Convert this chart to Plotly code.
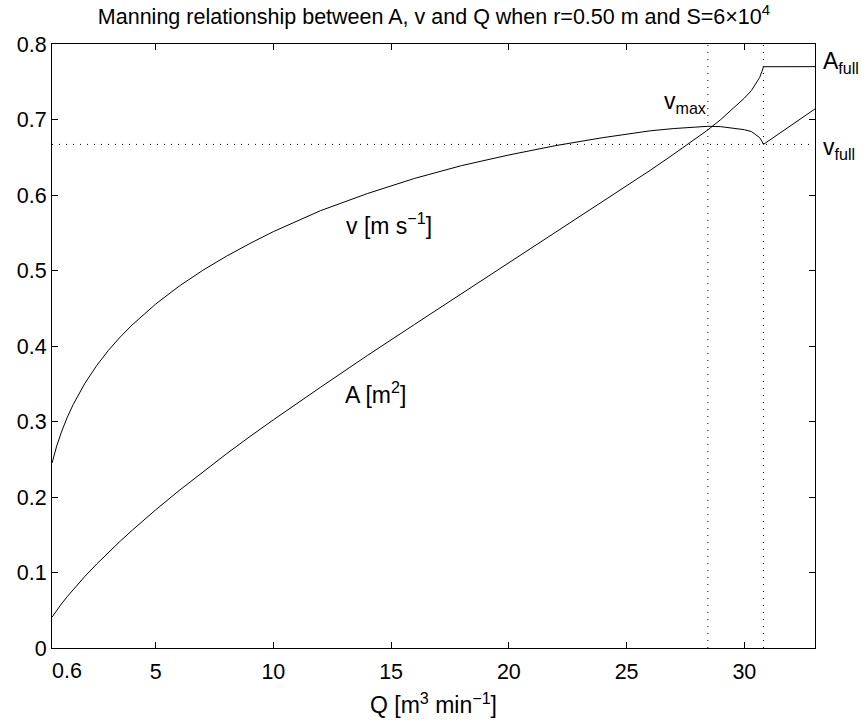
import plotly.graph_objects as go

# Discharge Q [m^3 min^-1] (partially full part of the curves)
q_part = [0.6, 0.7, 0.8, 1, 1.25, 1.5, 2, 2.5, 3, 3.5, 4, 5, 6, 7, 8, 9, 10, 12, 14,
          16, 18, 20, 22, 24, 26, 27, 28, 28.45, 29, 29.5, 30, 30.3, 30.5, 30.65,
          30.75, 30.81]
# Velocity v [m s^-1]
v_part = [0.245, 0.2569, 0.2675, 0.286, 0.3057, 0.3225, 0.3508, 0.3742, 0.3944,
          0.4120, 0.4278, 0.4555, 0.4793, 0.5002, 0.5188, 0.5357, 0.5515, 0.5792,
          0.602, 0.622, 0.639, 0.653, 0.6655, 0.676, 0.685, 0.688, 0.690, 0.691,
          0.6905, 0.689, 0.6865, 0.684, 0.680, 0.676, 0.671, 0.667]
# Flow area A [m^2]
a_part = [0.0408, 0.0454, 0.0498, 0.0583, 0.0682, 0.0775, 0.0950, 0.1113, 0.1268,
          0.1416, 0.1558, 0.1829, 0.2086, 0.2332, 0.2570, 0.2800, 0.3022, 0.3453,
          0.3876, 0.4287, 0.4695, 0.5105, 0.5510, 0.5917, 0.6326, 0.6541, 0.6763,
          0.6862, 0.7000, 0.7136, 0.7283, 0.7383, 0.7475, 0.7557, 0.7638, 0.7699]
# Pipe-full (pressurised) part
q_pres = [30.81, 33.0]
v_pres = [0.667, 0.714]
a_pres = [0.770, 0.770]

q_vmax = 28.45
q_full = 30.81
v_full = 0.667
x_range = [0.6, 33.0]
y_range = [0, 0.8]

x_tickvals = [0.6, 5, 10, 15, 20, 25, 30]
x_ticktext = ["0.6", "5", "10", "15", "20", "25", "30"]
y_tickvals = [0, 0.1, 0.2, 0.3, 0.4, 0.5, 0.6, 0.7, 0.8]
y_ticktext = ["0", "0.1", "0.2", "0.3", "0.4", "0.5", "0.6", "0.7", "0.8"]

FONT = "Liberation Sans, Arial, Helvetica, sans-serif"
FS = 21.5
line = dict(color="black", width=1)
dots = dict(color="black", width=1, dash="1px,6px")

fig = go.Figure()
# dotted guide lines
fig.add_trace(go.Scatter(x=x_range, y=[v_full, v_full], mode="lines", line=dots))
fig.add_trace(go.Scatter(x=[q_vmax, q_vmax], y=y_range, mode="lines", line=dots))
fig.add_trace(go.Scatter(x=[q_full, q_full], y=y_range, mode="lines", line=dots))
# curves
fig.add_trace(go.Scatter(x=q_part + q_pres[1:], y=v_part + v_pres[1:], mode="lines", line=line))
fig.add_trace(go.Scatter(x=q_part + q_pres[1:], y=a_part + a_pres[1:], mode="lines", line=line))

ann_font = dict(family=FONT, size=23, color="black")
fig.add_annotation(x=14.9, y=0.562, text="v [m s<sup>\u22121</sup>]", showarrow=False, font=ann_font)
fig.add_annotation(x=14.35, y=0.338, text="A [m<sup>2</sup>]", showarrow=False, font=ann_font)
fig.add_annotation(x=27.5, y=0.722, text="v<sub>max</sub>", showarrow=False, font=ann_font)
fig.add_annotation(x=1.008, xref="paper", y=0.775, text="A<sub>full</sub>", showarrow=False,
                   xanchor="left", font=ann_font)
fig.add_annotation(x=1.008, xref="paper", y=0.662, text="v<sub>full</sub>", showarrow=False,
                   xanchor="left", font=ann_font)
# first x tick label sits to the right of its tick, as in the original
fig.add_annotation(x=x_tickvals[0], y=0, xref="x", yref="paper", text=x_ticktext[0],
                   showarrow=False, xanchor="left", yanchor="top", yshift=-9,
                   xshift=-2, font=dict(family=FONT, size=FS, color="black"))

axis_common = dict(showline=True, linecolor="black", linewidth=1, mirror="ticks",
                   ticks="inside", ticklen=6, tickcolor="black", showgrid=False,
                   zeroline=False, automargin=False,
                   tickfont=dict(family=FONT, size=FS, color="black"))
fig.update_xaxes(range=x_range, tickvals=x_tickvals, ticktext=[""] + x_ticktext[1:],
                 ticklabelstandoff=4,
                 title=dict(text="Q [m<sup>3</sup> min<sup>\u22121</sup>]", standoff=14,
                            font=dict(family=FONT, size=23, color="black")),
                 **axis_common)
fig.update_yaxes(range=y_range, tickvals=y_tickvals, ticktext=y_ticktext, **axis_common)

fig.update_layout(
    width=868, height=722,
    margin=dict(l=52, r=53, t=44, b=74),
    paper_bgcolor="white", plot_bgcolor="white",
    showlegend=False,
    title=dict(text="Manning relationship between A, v and Q when r=0.50 m and S=6\u00d710<sup>4</sup>",
               x=0.5, xanchor="center", y=0.987, yanchor="top",
               font=dict(family=FONT, size=21.5, color="black")),
)

fig.write_html("out.html")
